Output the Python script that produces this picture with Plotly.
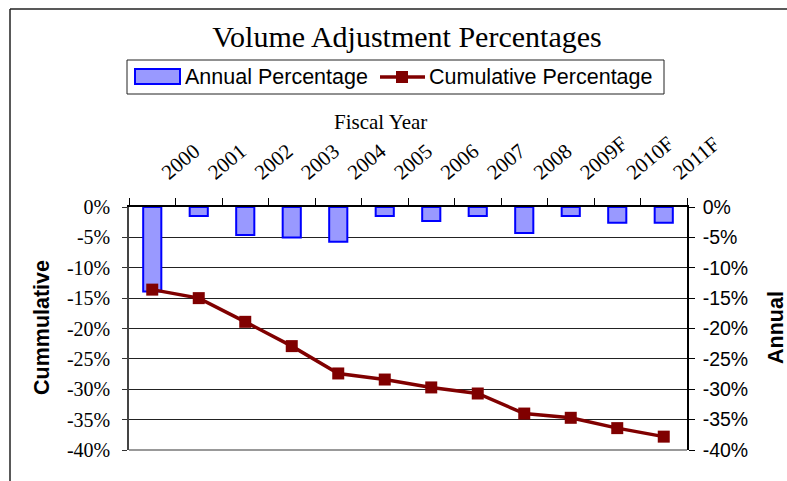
import plotly.graph_objects as go

years = ["2000", "2001", "2002", "2003", "2004", "2005", "2006", "2007",
         "2008", "2009F", "2010F", "2011F"]
annual_pct = [-13.9, -1.5, -4.6, -5.0, -5.7, -1.5, -2.3, -1.5, -4.3, -1.5, -2.6, -2.6]
cumulative_pct = [-13.6, -15.0, -18.9, -22.9, -27.4, -28.4, -29.7, -30.7, -34.0, -34.7, -36.4, -37.8]
y_tickvals = [0, -5, -10, -15, -20, -25, -30, -35, -40]
y_ticktext = ["0%", "-5%", "-10%", "-15%", "-20%", "-25%", "-30%", "-35%", "-40%"]
series_names = ["Annual Percentage", "Cumulative Percentage"]

W, H = 787, 481
L, R, T, B = 129, 100, 207, 31
pw, ph = W - L - R, H - T - B

def px(x):
    return (x - L) / pw

def py(y):
    return (H - B - y) / ph

SERIF = "Liberation Serif, Times New Roman, serif"
SANS = "Liberation Sans, Arial, sans-serif"
BAR_FILL, BAR_EDGE, LINE_COL = "#9999FF", "#0000FF", "#800000"

fig = go.Figure()
fig.add_trace(go.Bar(
    x=years, y=annual_pct, name=series_names[0], showlegend=False,
    marker=dict(color=BAR_FILL, line=dict(color=BAR_EDGE, width=2)),
    yaxis="y", xaxis="x",
))
fig.add_trace(go.Scatter(
    x=years, y=cumulative_pct, name=series_names[1], showlegend=False,
    mode="lines+markers",
    line=dict(color=LINE_COL, width=3.5),
    marker=dict(symbol="square", size=12, color=LINE_COL),
    yaxis="y2", xaxis="x",
))

# legend drawn as a framed box with sample glyphs
legend_shapes = [
    dict(type="rect", xref="paper", yref="paper", x0=px(127), x1=px(664),
         y0=py(60), y1=py(94), line=dict(color="#222", width=1), fillcolor="white"),
    dict(type="rect", xref="paper", yref="paper", x0=px(135), x1=px(180),
         y0=py(69), y1=py(84), line=dict(color=BAR_EDGE, width=2), fillcolor=BAR_FILL),
    dict(type="line", xref="paper", yref="paper", x0=px(380), x1=px(425),
         y0=py(77), y1=py(77), line=dict(color=LINE_COL, width=3.5)),
    dict(type="rect", xref="paper", yref="paper", x0=px(396), x1=px(408),
         y0=py(71), y1=py(83), line=dict(color=LINE_COL, width=0), fillcolor=LINE_COL),
]
legend_texts = [
    dict(text=series_names[0], x=px(183), y=py(77), xref="paper", yref="paper",
         showarrow=False, xanchor="left", yanchor="middle",
         font=dict(family=SANS, size=21.5, color="black")),
    dict(text=series_names[1], x=px(427), y=py(77), xref="paper", yref="paper",
         showarrow=False, xanchor="left", yanchor="middle",
         font=dict(family=SANS, size=21.5, color="black")),
]

fig.update_layout(
    width=W, height=H,
    margin=dict(l=L, r=R, t=T, b=B, autoexpand=False),
    paper_bgcolor="white", plot_bgcolor="white",
    bargap=0.61,
    title=dict(text="Volume Adjustment Percentages", x=407 / W, xref="container",
               y=1 - 36 / H, yref="container", xanchor="center", yanchor="middle",
               font=dict(family=SERIF, size=30, color="black")),
    showlegend=False,
    xaxis=dict(type="category", side="top", range=[-0.5, 11.5],
               tickson="boundaries", ticks="outside", ticklen=7, tickcolor="black",
               tickangle=-40, ticklabelstandoff=14, ticklabelshift=10,
               tickfont=dict(family=SERIF, size=21, color="black"),
               showline=True, linecolor="black", linewidth=1.5, showgrid=False,
               automargin=False),
    yaxis=dict(range=[-40, 0], tickvals=y_tickvals, ticktext=y_ticktext,
               ticks="outside", ticklen=5, tickcolor="#333", ticklabelstandoff=8,
               tickfont=dict(family=SERIF, size=20, color="black"),
               showline=True, linecolor="#444", linewidth=1.5,
               showgrid=True, gridcolor="#222", gridwidth=1, zeroline=False,
               automargin=False),
    yaxis2=dict(range=[-40, 0], tickvals=y_tickvals, ticktext=y_ticktext,
                overlaying="y", side="right",
                ticks="outside", ticklen=6, tickcolor="black", ticklabelstandoff=4,
                tickfont=dict(family=SANS, size=19.5, color="black"),
                showline=True, linecolor="black", linewidth=1.5,
                showgrid=False, zeroline=False, automargin=False),
    annotations=legend_texts + [
        dict(text="Fiscal Year", x=px(380), y=py(122), xref="paper", yref="paper",
             showarrow=False, xanchor="center", yanchor="middle",
             font=dict(family=SERIF, size=21, color="black")),
        dict(text="<b>Cummulative</b>", x=px(42), y=py(328), xref="paper", yref="paper",
             showarrow=False, xanchor="center", yanchor="middle", textangle=-90,
             font=dict(family=SANS, size=21.5, color="black")),
        dict(text="<b>Annual</b>", x=px(776), y=py(328), xref="paper", yref="paper",
             showarrow=False, xanchor="center", yanchor="middle", textangle=-90,
             font=dict(family=SANS, size=21.5, color="black")),
    ],
    shapes=legend_shapes + [
        dict(type="line", xref="paper", yref="paper", x0=px(10), x1=px(800),
             y0=py(9), y1=py(9), line=dict(color="#222", width=1.5)),
        dict(type="line", xref="paper", yref="paper", x0=px(10), x1=px(10),
             y0=py(9), y1=py(490), line=dict(color="#222", width=1.5)),
        dict(type="line", xref="paper", yref="paper", x0=0, x1=1,
             y0=0, y1=0, line=dict(color="#999", width=2)),
    ],
)

fig.write_html("out.html", config={"displayModeBar": False},
               post_script="document.body.style.margin='0';")
